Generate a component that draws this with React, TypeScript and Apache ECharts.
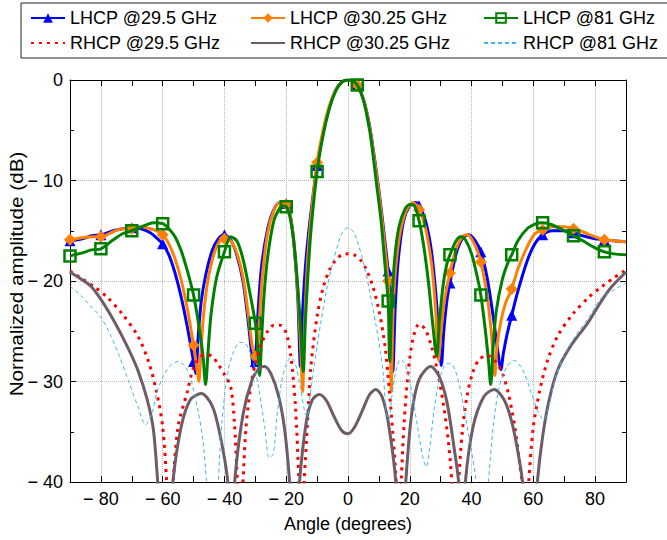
import React, { useEffect, useRef } from 'react';
import * as echarts from 'echarts';

// Angles (deg) where markers are drawn on the LHCP curves
const MARKER_X = [-90, -80, -70, -60, -50, -40, -30, -20, -10, 3, 13, 23, 33, 43, 53, 63, 73, 83];
const GRID_X = [-80, -60, -40, -20, 0, 20, 40, 60, 80];
const Y_TICKS = [-40, -30, -20, -10, 0];

const lhcp295: [number, number][] = [
  [-90, -16.0], [-86, -15.8], [-83, -15.5], [-80, -15.4], [-76, -15.0], [-73, -14.8], [-70, -14.7],
  [-67, -14.8], [-64, -15.2], [-62, -15.7], [-60, -16.3], [-58, -17.4], [-56, -19.2], [-54, -21.6],
  [-52, -24.6], [-50, -28.0], [-49.3, -29.2], [-48.5, -25.5], [-47.5, -22.0], [-46, -19.3], [-44, -17.0],
  [-42, -15.8], [-40, -15.4], [-38, -15.9], [-36, -17.4], [-34, -20.0], [-32.5, -23.5], [-31.2, -27.2],
  [-30.6, -28.6], [-30, -28.0], [-29.2, -23.5], [-28, -18.6], [-26, -14.8], [-24, -12.9], [-22, -12.2],
  [-20, -12.3], [-18.5, -13.8], [-17.3, -17.0], [-16.2, -22.0], [-15.4, -28.5], [-14.6, -22.5],
  [-13.5, -17.5], [-12, -13.2], [-10, -8.5], [-8, -5.2], [-6, -2.7], [-4, -1.0], [-2, -0.2], [0, 0],
  [1.5, -0.1], [3, -0.5], [5, -1.9], [7, -4.6], [9, -8.7], [10.5, -12.2], [12, -16.2], [13, -19.0],
  [13.8, -23.0], [14.5, -29.0], [15.3, -22.5], [16.3, -17.8], [18, -14.0], [20, -12.5], [22, -12.2],
  [23, -12.5], [25, -13.9], [27, -17.0], [28.5, -21.5], [29.5, -25.8], [30.2, -28.4], [31, -25.0],
  [32, -22.0], [33, -20.2], [35, -17.3], [37, -15.8], [39, -15.4], [41, -15.9], [43, -17.1], [45, -19.6],
  [47, -23.5], [48.5, -27.0], [49.5, -28.8], [50.3, -27.2], [51.5, -25.3], [53, -23.4], [55, -21.0],
  [58, -18.0], [60.5, -16.3], [63, -15.4], [66, -15.0], [70, -15.0], [73, -15.2], [76, -15.5], [80, -15.8],
  [83, -15.9], [86, -16.0], [90, -16.1],
];

const lhcp3025: [number, number][] = [
  [-90, -15.9], [-86, -15.7], [-83, -15.6], [-80, -15.6], [-76, -15.1], [-73, -14.8], [-70, -14.8],
  [-67, -14.6], [-64, -14.8], [-62, -15.0], [-60, -15.4], [-58, -16.3], [-56, -17.8], [-54, -19.9],
  [-52, -22.8], [-50, -26.4], [-49, -28.5], [-48.3, -30.0], [-47.6, -27.0], [-46.8, -23.5], [-45.5, -20.2],
  [-43.5, -17.4], [-41.5, -16.0], [-40, -15.8], [-38, -16.0], [-36, -17.2], [-34, -19.6], [-32.5, -22.8],
  [-31, -26.5], [-30, -27.5], [-29.5, -28.2], [-28.8, -24.5], [-27.8, -19.8], [-26, -15.2], [-24, -13.0],
  [-22, -12.2], [-20, -12.4], [-18.5, -13.8], [-17.2, -17.2], [-16, -22.5], [-15.2, -27.5], [-14.7, -31.0],
  [-14.1, -25.0], [-13.2, -18.5], [-12, -13.8], [-10, -8.2], [-8, -4.9], [-6, -2.5], [-4, -1.0], [-2, -0.2],
  [0, 0], [1.5, -0.1], [3, -0.5], [5, -1.9], [7, -4.7], [9, -8.9], [10.5, -12.5], [12, -16.8], [13, -20.0],
  [13.6, -24.0], [14, -31.0], [14.6, -23.0], [15.5, -18.5], [17, -15.0], [19, -12.9], [21, -12.2],
  [23, -12.9], [25, -14.6], [27, -18.2], [28.3, -22.5], [29.3, -27.9], [30, -25.5], [31.2, -22.0],
  [33, -19.2], [35, -16.8], [37, -15.6], [38.5, -15.4], [40, -15.8], [42, -17.1], [43, -18.1], [45, -21.3],
  [46.5, -25.5], [47.5, -29.4], [48.3, -26.3], [49.5, -24.0], [51, -22.2], [53, -20.8], [55, -18.8],
  [58, -16.6], [60.5, -15.3], [63, -14.9], [66, -14.6], [70, -14.6], [73, -14.8], [76, -15.1], [80, -15.6],
  [83, -15.9], [86, -16.0], [90, -16.1],
];

const lhcp81: [number, number][] = [
  [-90, -17.5], [-86, -17.2], [-83, -16.9], [-80, -16.8], [-76, -15.9], [-73, -15.3], [-70, -15.0],
  [-66, -14.5], [-63, -14.2], [-60, -14.3], [-58, -14.8], [-56, -15.6], [-54, -17.0], [-52, -19.0],
  [-50, -21.4], [-48.5, -24.0], [-47, -27.3], [-46.1, -30.3], [-45.3, -27.0], [-44.3, -23.2], [-42.5, -19.6],
  [-40, -17.1], [-38, -15.6], [-36, -16.0], [-34, -17.8], [-32, -20.8], [-30, -24.2], [-29.2, -26.8],
  [-28.6, -29.4], [-28, -26.0], [-27.2, -21.5], [-26, -17.6], [-24, -14.0], [-22, -12.7], [-21, -12.5],
  [-20, -12.6], [-18.8, -13.6], [-17.5, -16.2], [-16.2, -20.8], [-15.2, -25.5], [-14.5, -29.0],
  [-13.8, -24.0], [-13, -19.5], [-12, -15.0], [-10, -9.1], [-8, -5.4], [-6, -2.8], [-4, -1.1], [-2, -0.2],
  [0, 0], [1.5, -0.1], [3, -0.5], [5, -2.0], [7, -5.0], [8, -7.2], [9.1, -10.0], [10.7, -14.0], [12, -18.5],
  [13, -22.0], [13.5, -28.0], [14.2, -22.0], [15.2, -17.5], [16.5, -14.6], [18.5, -12.8], [20, -12.4],
  [21.5, -12.5], [23, -14.0], [24.5, -16.5], [26, -20.0], [27.5, -24.5], [28.7, -27.5], [29.6, -24.0],
  [30.8, -20.4], [32, -18.3], [33, -17.4], [35, -16.0], [36.5, -15.6], [38, -15.9], [40, -17.3], [42, -19.8],
  [43, -21.4], [44.5, -25.0], [45.5, -28.0], [46.2, -30.3], [47, -26.5], [48, -23.0], [50, -19.8],
  [52, -18.0], [53, -17.4], [55, -16.0], [58, -14.8], [61, -14.3], [63, -14.2], [66, -14.4], [70, -15.0],
  [73, -15.5], [76, -16.0], [80, -16.7], [83, -17.1], [86, -17.3], [90, -17.4],
];

const rhcp295: [number, number][] = [
  [-90, -19.0], [-86, -19.8], [-82, -20.6], [-78, -21.6], [-73, -23.3], [-68, -25.5], [-64.6, -28.0],
  [-62, -31.0], [-60, -34.5], [-58.7, -40], [-57.6, -46], [-56.6, -40], [-55, -34.5], [-52, -31.0],
  [-50, -28.6], [-48, -27.6], [-46, -27.3], [-44, -27.5], [-42, -28.3], [-40, -29.3], [-38, -30.5],
  [-36.8, -34], [-35.8, -40], [-35, -46], [-34, -40], [-33, -34.5], [-31.5, -30.5], [-30, -28.2],
  [-28, -26.2], [-26, -25.0], [-24, -24.4], [-22, -24.4], [-20, -25.2], [-18.5, -27.5], [-17, -32.5],
  [-15.9, -40], [-15.1, -46], [-14.2, -40], [-13.1, -34], [-12, -28.5], [-10, -23.5], [-8, -20.6],
  [-6, -18.9], [-4, -17.9], [-2, -17.4], [0, -17.3], [2, -17.4], [4, -17.9], [6, -18.9], [8, -20.5],
  [10, -22.9], [12, -26.5], [13.4, -31.0], [14.6, -35.5], [15.6, -40], [16.4, -46], [17.2, -40],
  [18.2, -34], [19.5, -29], [21, -25.8], [23, -24.3], [25, -24.8], [27, -26.5], [29, -29.0], [31, -32.5],
  [32.5, -36], [33.6, -40], [34.6, -46], [35.8, -40], [37, -35], [38.5, -31.5], [40.5, -29],
  [42.5, -27.8], [45, -27.4], [47.5, -27.9], [50, -29.2], [52, -31.3], [54, -34.5], [55.5, -38],
  [56.3, -40], [57.4, -46], [58.5, -40], [60, -34.5], [62, -31], [64.6, -27.9], [68, -25.4], [73, -23.2],
  [78, -21.6], [82, -20.6], [86, -19.7], [90, -18.9],
];

const rhcp3025: [number, number][] = [
  [-90, -19.1], [-86, -19.9], [-83, -20.6], [-79, -22.3], [-75, -24.4], [-71, -26.8], [-68, -28.9],
  [-65, -31.8], [-63, -34.8], [-61.6, -40], [-59.2, -50], [-56.7, -40], [-54, -34.5], [-51, -31.8],
  [-47.5, -31.2], [-44, -32.4], [-41.5, -35.2], [-38.9, -40], [-37.8, -47], [-36.7, -40], [-34, -33.3],
  [-31, -29.8], [-28.5, -28.6], [-27, -28.5], [-25, -29.2], [-22.5, -31.4], [-20.5, -34.8], [-18.9, -40],
  [-17.3, -48], [-15.7, -40], [-13.5, -34], [-11.5, -31.8], [-9.3, -31.3], [-7, -31.9], [-4.5, -33.5],
  [-2, -34.9], [0, -35.2], [2, -34.6], [4.5, -33], [7, -31.3], [9, -30.8], [11, -31.5], [13, -34],
  [15.5, -40], [17.1, -48], [18.7, -40], [20.5, -33.5], [23, -29.8], [26.8, -28.5], [29.5, -29.5],
  [32, -32], [34.3, -36.5], [35.8, -40], [36.9, -47], [38, -40], [40.5, -34.5], [44, -31.5], [47.3, -30.8],
  [50.5, -31.8], [53, -34], [55, -37], [56.5, -40], [58.9, -50], [61.3, -40], [63, -35.5], [65, -32],
  [67.8, -28.9], [72, -26.5], [77.6, -24.2], [81, -22.5], [85, -20.7], [90, -19.1],
];

const rhcp81: [number, number][] = [
  [-90, -20.5], [-86, -21.6], [-83, -22.6], [-80, -23.6], [-77, -25.3], [-74, -27.5], [-71, -30.0],
  [-68, -32.5], [-65.5, -34.3], [-63.5, -33.2], [-62, -31.2], [-60, -29.6], [-57.5, -28.4], [-55, -28.0],
  [-52.5, -28.6], [-50.5, -30.2], [-48.5, -33], [-47, -35.8], [-45.8, -40], [-44.5, -46], [-43, -46],
  [-42, -40], [-40.8, -34], [-39, -29.2], [-37, -27], [-35, -26.1], [-33, -26.3], [-31, -27.7],
  [-29, -30.5], [-27, -34.5], [-25.5, -37.6], [-24.2, -37.2], [-23, -33.5], [-21.5, -30], [-20, -28.3],
  [-18.5, -27.6], [-17, -28.3], [-15.5, -30.5], [-14, -33], [-13.2, -33.5], [-12.3, -31.5], [-11, -28.5],
  [-9, -24.5], [-7, -21], [-5, -18.3], [-3, -16.1], [-1.5, -15.0], [0, -14.7], [1.5, -15.0], [3, -16.0],
  [5, -18.2], [7, -21.0], [9, -24.3], [10.5, -27.0], [11.5, -29.5], [12.3, -33.0], [13.2, -33.8],
  [14.2, -31.5], [15.5, -29.0], [17, -27.8], [18.5, -28.3], [20.5, -30.8], [22.5, -34.5], [24.2, -37.5],
  [25.3, -38.5], [26.5, -36.5], [28, -32.5], [30, -29.4], [32, -28.2], [34, -28.4], [36, -30.3],
  [38, -33.5], [40, -37], [41.5, -40], [42.8, -46], [44.3, -46], [45.5, -40], [47, -34.5], [49, -30.5],
  [51.5, -28.5], [53.8, -27.9], [56.5, -28.8], [59, -30.8], [61.5, -33], [63.4, -33.8], [65, -32.5],
  [67, -29.8], [70, -27.4], [74, -25.3], [78, -23.6], [82, -21.7], [86, -20.9], [90, -20.2],
];

const NAMES = [
  'LHCP @29.5 GHz', 'LHCP @30.25 GHz', 'LHCP @81 GHz',
  'RHCP @29.5 GHz', 'RHCP @30.25 GHz', 'RHCP @81 GHz',
];

const X_NAME = 'Angle (degrees)';
const Y_NAME = 'Normalized amplitude (dB)';

const FONT = "'Liberation Sans', Arial, Helvetica, sans-serif";

function withMarkers(pts: [number, number][]) {
  return pts.map(([x, y]) =>
    MARKER_X.includes(x) ? { value: [x, y] } : { value: [x, y], symbol: 'none' }
  );
}

function fmt(v: number): string {
  return v < 0 ? '\u2212 ' + Math.abs(v) : String(v);
}

export default function App() {
  const ref = useRef<HTMLDivElement>(null);

  useEffect(() => {
    if (!ref.current) return;
    const chart = echarts.init(ref.current, undefined, { renderer: 'svg' });

    const W = 556;
    const gridLeft = 70;
    const gridTop = 80;
    const gridH = 402;
    const pxPerDeg = W / 180;

    const legendPos = [
      { left: 30, top: 9 }, { left: 250, top: 9 }, { left: 483, top: 9 },
      { left: 30, top: 34 }, { left: 250, top: 34 }, { left: 483, top: 34 },
    ];

    const baseXAxis = {
      type: 'value',
      min: -90,
      max: 90,
      interval: 10,
      axisLine: { show: true, onZero: false, lineStyle: { color: '#000', width: 1 } },
      axisTick: { show: true, inside: true, length: 6, lineStyle: { color: '#000' } },
      splitLine: { show: false },
    };
    const baseYAxis = {
      type: 'value',
      min: -40,
      max: 0,
      interval: 10,
      axisLine: { show: true, onZero: false, lineStyle: { color: '#000', width: 1 } },
      axisTick: { show: true, inside: true, length: 6, lineStyle: { color: '#000' } },
      minorTick: { show: true, splitNumber: 2, length: 4, lineStyle: { color: '#000' } },
    };

    const hidden = 'rgba(0,0,0,0)';

    const option: any = {
      animation: false,
      backgroundColor: '#fff',
      textStyle: { fontFamily: FONT },
      graphic: [
        {
          type: 'rect',
          shape: { x: 21, y: 3, width: 700, height: 55 },
          style: { fill: 'none', stroke: '#222', lineWidth: 1 },
          silent: true,
        },
        {
          type: 'text',
          x: 17,
          y: 274,
          rotation: Math.PI / 2,
          scaleX: 1.15,
          silent: true,
          style: {
            text: Y_NAME,
            fontSize: 18,
            fontFamily: FONT,
            fill: '#000',
            align: 'center',
            verticalAlign: 'middle',
            textAlign: 'center',
            textVerticalAlign: 'middle',
          },
        },
      ],
      legend: NAMES.map((n, i) => ({
        data: [n],
        left: legendPos[i].left,
        top: legendPos[i].top,
        padding: 0,
        itemWidth: 34,
        itemHeight: 12,
        itemGap: 0,
        selectedMode: false,
        textStyle: { fontSize: 18, color: '#000', fontFamily: FONT },
      })),
      grid: [
        { left: gridLeft, top: gridTop, width: W, height: gridH, containLabel: false },
        {
          left: gridLeft + 10 * pxPerDeg,
          top: gridTop,
          width: 160 * pxPerDeg,
          height: gridH,
          containLabel: false,
        },
      ],
      xAxis: [
        {
          ...baseXAxis,
          position: 'bottom',
          gridIndex: 0,
          name: X_NAME,
          nameLocation: 'middle',
          nameGap: 33,
          nameTextStyle: { fontSize: 18, color: '#000', fontFamily: FONT },
          axisLabel: {
            show: true,
            fontSize: 18,
            color: '#000',
            fontFamily: FONT,
            margin: 8,
            formatter: (v: number) => (v % 20 === 0 && Math.abs(v) < 90 ? fmt(v) : ''),
          },
        },
        {
          ...baseXAxis,
          position: 'top',
          gridIndex: 0,
          axisLabel: { show: false },
        },
        {
          type: 'value',
          gridIndex: 1,
          min: GRID_X[0],
          max: GRID_X[GRID_X.length - 1],
          interval: 20,
          axisLine: { show: false },
          axisTick: { show: false },
          axisLabel: { show: false },
          splitLine: { show: true, lineStyle: { type: 'dotted', color: '#b8b8b8', width: 1 } },
        },
      ],
      yAxis: [
        {
          ...baseYAxis,
          position: 'left',
          gridIndex: 0,
          axisLabel: {
            show: true,
            fontSize: 18,
            color: '#000',
            fontFamily: FONT,
            margin: 7,
            formatter: (v: number) => (Y_TICKS.includes(v) ? fmt(v) : ''),
          },
          splitLine: { show: true, lineStyle: { type: 'dotted', color: '#b8b8b8', width: 1 } },
        },
        {
          ...baseYAxis,
          position: 'right',
          gridIndex: 0,
          axisLabel: { show: false },
          splitLine: { show: false },
        },
        {
          type: 'value',
          gridIndex: 1,
          min: -40,
          max: 0,
          show: false,
          splitLine: { show: false },
        },
      ],
      series: [
        {
          name: NAMES[0],
          type: 'line',
          data: withMarkers(lhcp295),
          smooth: 0.3,
          symbol: 'triangle',
          symbolSize: 11,
          showSymbol: true,
          showAllSymbol: true,
          lineStyle: { color: '#0000ff', width: 3 },
          itemStyle: { color: '#0000ff' },
          z: 3,
        },
        {
          name: NAMES[1],
          type: 'line',
          data: withMarkers(lhcp3025),
          smooth: 0.3,
          symbol: 'diamond',
          symbolSize: 12,
          showSymbol: true,
          showAllSymbol: true,
          lineStyle: { color: '#ff8000', width: 3 },
          itemStyle: { color: '#ff8000' },
          z: 4,
        },
        {
          name: NAMES[2],
          type: 'line',
          data: withMarkers(lhcp81),
          smooth: 0.3,
          symbol: 'rect',
          symbolSize: 11,
          showSymbol: true,
          showAllSymbol: true,
          lineStyle: { color: '#008000', width: 3 },
          itemStyle: { color: hidden, borderColor: '#008000', borderWidth: 2.5 },
          z: 5,
        },
        {
          name: NAMES[3],
          type: 'line',
          data: rhcp295,
          smooth: 0.3,
          symbol: 'circle',
          showSymbol: false,
          lineStyle: { color: '#ff0000', width: 3, type: [3, 5] },
          itemStyle: { color: hidden, borderWidth: 0 },
          z: 6,
        },
        {
          name: NAMES[4],
          type: 'line',
          data: rhcp3025,
          smooth: 0.3,
          symbol: 'circle',
          showSymbol: false,
          lineStyle: { color: '#6e5d66', width: 3 },
          itemStyle: { color: hidden, borderWidth: 0 },
          z: 7,
        },
        {
          name: NAMES[5],
          type: 'line',
          data: rhcp81,
          smooth: 0.3,
          symbol: 'circle',
          showSymbol: false,
          lineStyle: { color: '#3cb8e8', width: 1, type: [4, 3] },
          itemStyle: { color: hidden, borderWidth: 0 },
          z: 8,
        },
      ],
    };

    chart.setOption(option);
    return () => chart.dispose();
  }, []);

  return (
    <div
      ref={ref}
      style={{ position: 'fixed', left: 0, top: 0, width: 667, height: 540, background: '#fff' }}
    />
  );
}
